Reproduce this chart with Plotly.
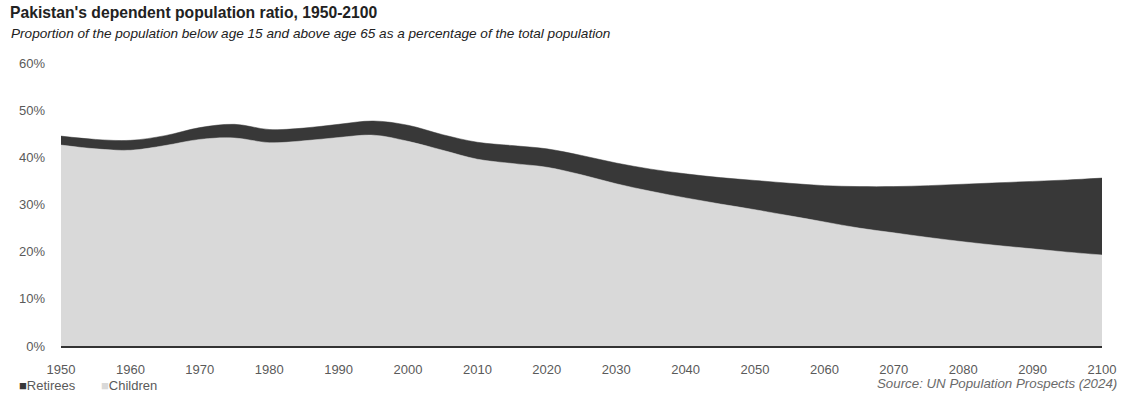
import plotly.graph_objects as go

years = [1950, 1955, 1960, 1965, 1970, 1975, 1980, 1985, 1990, 1995, 2000,
         2005, 2010, 2015, 2020, 2025, 2030, 2035, 2040, 2045, 2050, 2055, 2060,
         2065, 2070, 2075, 2080, 2085, 2090, 2095, 2100]
children = [42.6, 41.8, 41.5, 42.5, 43.8, 44.1, 43.1, 43.5, 44.2, 44.7, 43.4,
            41.5, 39.6, 38.7, 37.9, 36.3, 34.4, 32.8, 31.4, 30.1, 28.9, 27.6, 26.3,
            25.0, 24.0, 23.0, 22.1, 21.3, 20.6, 19.9, 19.3]
retirees = [1.9, 2.0, 2.1, 2.1, 2.5, 2.9, 2.8, 2.7, 2.8, 3.0, 3.4,
            3.3, 3.6, 3.8, 3.9, 4.1, 4.4, 4.7, 5.1, 5.6, 6.2, 6.9, 7.7,
            8.8, 9.8, 11.0, 12.2, 13.3, 14.3, 15.3, 16.3]
x_ticks = list(range(1950, 2101, 10))
y_ticks = [0, 10, 20, 30, 40, 50, 60]
y_tick_labels = [f"{v}%" for v in y_ticks]

LIGHT = "#d9d9d9"
DARK = "#383838"
FONT = "Liberation Sans, Arial, sans-serif"

fig = go.Figure()
fig.add_trace(go.Scatter(x=years, y=children, name="Children", stackgroup="one",
                         mode="lines", line=dict(color=LIGHT, width=0.5, shape="spline", smoothing=1),
                         fillcolor=LIGHT, showlegend=False))
fig.add_trace(go.Scatter(x=years, y=retirees, name="Retirees", stackgroup="one",
                         mode="lines", line=dict(color=DARK, width=0.5, shape="spline", smoothing=1),
                         fillcolor=DARK, showlegend=False))

L, R, T, B = 61, 26, 63, 52
W, H = 1128, 398
pw = W - L - R
ph = H - T - B

def px(x):
    return (x - L) / pw

def py(y):
    return (H - B - y) / ph

fig.update_layout(
    width=W, height=H,
    margin=dict(l=L, r=R, t=T, b=B),
    paper_bgcolor="white", plot_bgcolor="white",
    font=dict(family=FONT, size=13, color="#5a5a5a"),
    showlegend=False,
    title=dict(text="<b>Pakistan's dependent population ratio, 1950-2100</b>",
               x=10 / W, xanchor="left", xref="container",
               y=1 - 13 / H, yanchor="middle", yref="container",
               font=dict(family=FONT, size=15.7, color="#222222")),
    xaxis=dict(range=[1950, 2100], tickmode="array", tickvals=x_ticks, showgrid=False, zeroline=False,
               showline=True, linecolor="#333333", linewidth=2, ticks="",
               ticklabelstandoff=10, tickfont=dict(size=13, color="#5a5a5a")),
    yaxis=dict(range=[0, 60], tickmode="array", tickvals=y_ticks, ticktext=y_tick_labels,
               showgrid=False, zeroline=False, showline=False, ticks="", ticklabelstandoff=15,
               tickfont=dict(size=13, color="#5a5a5a")),
    annotations=[
        dict(text="<i>Proportion of the population below age 15 and above age 65 as a percentage of the total population</i>",
             xref="paper", yref="paper", x=px(9), y=py(34), xanchor="left", yanchor="middle",
             showarrow=False, font=dict(family=FONT, size=13.6, color="#222222")),
        dict(text=f"<span style='color:{DARK}'>■</span>Retirees",
             xref="paper", yref="paper", x=px(17), y=py(385), xanchor="left", yanchor="middle",
             showarrow=False, font=dict(family=FONT, size=13, color="#5a5a5a")),
        dict(text=f"<span style='color:{LIGHT}'>■</span>Children",
             xref="paper", yref="paper", x=px(99), y=py(385), xanchor="left", yanchor="middle",
             showarrow=False, font=dict(family=FONT, size=13, color="#5a5a5a")),
        dict(text="<i>Source: UN Population Prospects (2024)</i>",
             xref="paper", yref="paper", x=px(1119), y=py(383), xanchor="right", yanchor="middle",
             showarrow=False, font=dict(family=FONT, size=13.3, color="#6a6a6a")),
    ],
)

fig.write_html("out.html", config={"displayModeBar": False},
               post_script="document.body.style.margin='0';")
